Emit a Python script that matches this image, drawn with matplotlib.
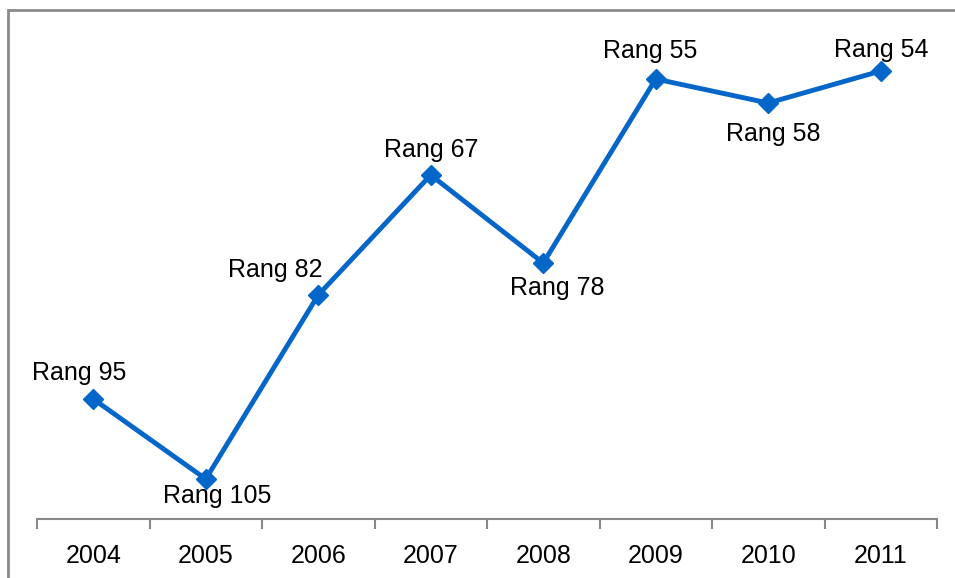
import matplotlib
matplotlib.use("Agg")
from matplotlib import pyplot as plt
from matplotlib.patches import Rectangle

# data
years = ["2004", "2005", "2006", "2007", "2008", "2009", "2010", "2011"]
ranks = [95, 105, 82, 67, 78, 55, 58, 54]
# label offsets (pixels) relative to each point
label_dx = [-14, 11, -43, 0, 14, -6, 5, 0]
label_dy = [26, -17, 25, 25, -25, 28, -31, 21]

plt.rcParams['font.family'] = ['Liberation Sans', 'DejaVu Sans']

fig = plt.figure(figsize=(9.55, 5.78), dpi=100)
ax = fig.add_axes([37 / 955, 59 / 578, 900 / 955, 509 / 578])

x = list(range(len(years)))
ax.plot(x, ranks, color='#0466c8', linewidth=3.5, marker='D', markersize=10,
        solid_joinstyle='miter')

for i, r in enumerate(ranks):
    ax.annotate("Rang %d" % r, (i, r), xytext=(label_dx[i], label_dy[i]),
                textcoords='offset pixels', ha='center', va='center',
                fontsize=18)

ax.set_xlim(-0.5, len(years) - 0.5)
ax.set_ylim(110, 46.375)

for s in ['top', 'right', 'left']:
    ax.spines[s].set_visible(False)
ax.spines['bottom'].set_color('#888888')
ax.spines['bottom'].set_linewidth(1.5)
ax.set_yticks([])

ax.set_xticks([i - 0.5 for i in range(len(years) + 1)], minor=False)
ax.set_xticklabels([])
ax.tick_params(axis='x', which='major', length=7, width=1.5, color='#888888')
ax.set_xticks(x, minor=True)
ax.set_xticklabels(years, minor=True, fontsize=18)
ax.tick_params(axis='x', which='minor', length=0, pad=18)

# outer frame
fig.patches.append(Rectangle((8 / 955, -0.1), 1.0, (568 / 578) + 0.1,
                             transform=fig.transFigure, fill=False,
                             edgecolor='#8a8a8a', linewidth=2))

plt.savefig("out.png", dpi=100)
